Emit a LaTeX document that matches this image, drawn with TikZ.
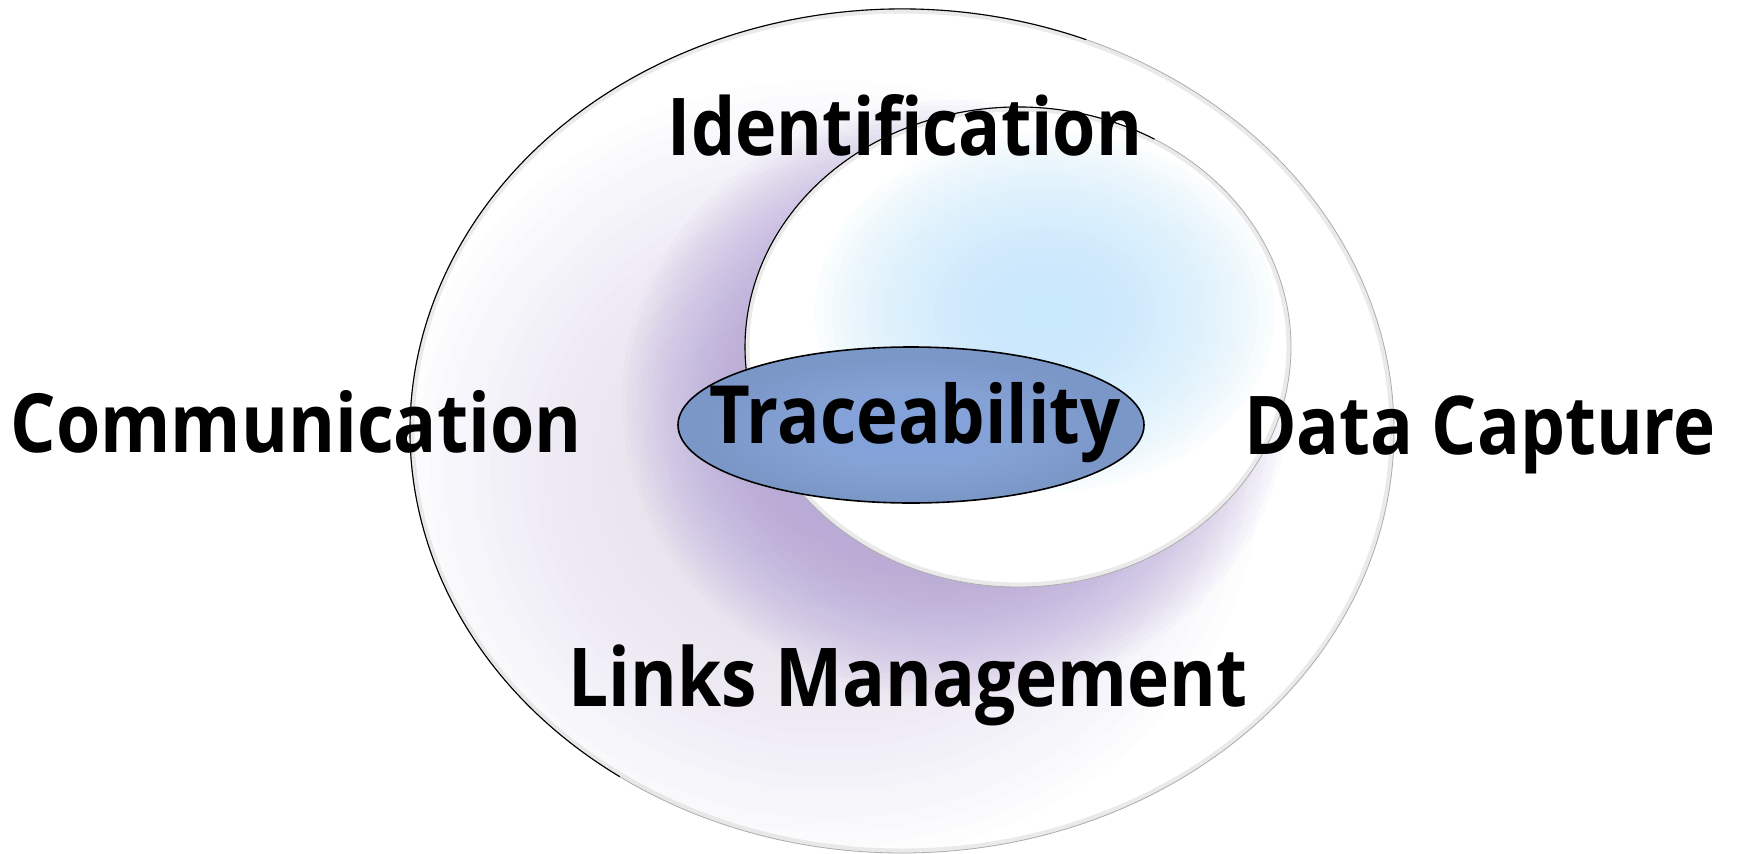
\documentclass[tikz,border=0pt]{standalone}
\usepackage{fontspec}
\setmainfont{Open Sans}
\usetikzlibrary{shapes.geometric}
\definecolor{glowpurple}{HTML}{B09CD6}
\definecolor{glowblue}{HTML}{C2E8FC}
\definecolor{tracefill}{HTML}{7B97C7}
\definecolor{tracelight}{HTML}{92B0E8}
\definecolor{lavender}{HTML}{DCD5EE}
\newcommand{\lbltext}[2]{\resizebox{#1pt}{!}{\scalebox{1}[1.14]{#2}}}
\tikzset{
  lbl/.style={inner sep=0pt, anchor=base, font=\bfseries\fontsize{80}{96}\selectfont},
  speck/.style={gray!30, line width=5pt, opacity=0.55},
  faintline/.style={gray!65, line width=0.8pt},
  darkline/.style={black, line width=1.1pt},
}
\begin{document}
\begin{tikzpicture}[x=1pt,y=-1pt]
\useasboundingbox (0,0) rectangle (1738,854);
\fill[white] (0,0) rectangle (1738,854);
% ---- outer ellipse ----
\begin{scope}
  \clip (902,431) ellipse [x radius=492, y radius=422];
  \fill[white] (0,0) rectangle (1738,854);
  \foreach \i in {0,...,24}{
    \fill[lavender, fill opacity=0.045] (830,470) ellipse [x radius={430-\i*15}, y radius={390-\i*14}];
  }
  \foreach \i in {0,...,24}{
    \fill[glowpurple, fill opacity=0.045] (955,400) ellipse [x radius={333-\i*5}, y radius={300-\i*5}];
  }
  \draw[speck] (902,431) ellipse [x radius=490, y radius=420];
\end{scope}
\draw[faintline] (902,431) ellipse [x radius=492, y radius=422];
\draw[darkline] (902,431) ++(292:492 and 422) arc[start angle=292, end angle=125, x radius=492, y radius=422];
% ---- inner ellipse ----
\begin{scope}
  \clip (1018,347) ellipse [x radius=273, y radius=240];
  \fill[white] (0,0) rectangle (1738,854);
  \foreach \i in {0,...,24}{
    \fill[glowblue, fill opacity=0.065] (1045,312) ellipse [x radius={230-\i*8.5}, y radius={180-\i*6.8}];
  }
  \draw[speck] (1018,347) ellipse [x radius=271, y radius=238];
\end{scope}
\draw[faintline] (1018,347) ellipse [x radius=273, y radius=240];
\draw[darkline] (1018,347) ++(300:273 and 240) arc[start angle=300, end angle=170, x radius=273, y radius=240];
% ---- traceability ellipse ----
\begin{scope}
  \clip (911,425) ellipse [x radius=233, y radius=78];
  \fill[tracefill] (0,0) rectangle (1738,854);
  \foreach \i in {0,...,19}{
    \fill[tracelight, fill opacity=0.07] (911,430) ellipse [x radius={200-\i*9}, y radius={70-\i*3}];
  }
\end{scope}
\draw[black, line width=1.6pt] (911,425) ellipse [x radius=233, y radius=78];
% ---- labels ----
\node[lbl] (ident) at (905,155) {\lbltext{474}{Identification}};
\node[lbl] (comm) at (296,452) {\lbltext{571}{Communication}};
\node[lbl] (trace) at (915,443) {\lbltext{411}{Traceability}};
\node[lbl] (data) at (1480,454) {\lbltext{472}{Data Capture}};
\node[lbl] (links) at (908,706) {\lbltext{679}{Links Management}};
\end{tikzpicture}
\end{document}
